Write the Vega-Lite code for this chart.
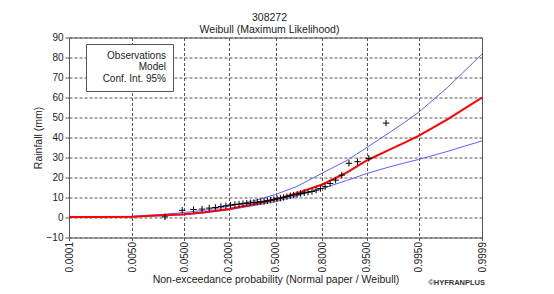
{
  "$schema": "https://vega.github.io/schema/vega-lite/v6.json",
  "width": 413,
  "height": 200,
  "autosize": {"type": "none"},
  "padding": {"left": 69, "top": 37.5, "right": 72, "bottom": 56.5},
  "background": "white",
  "config": {
    "font": "Liberation Sans",
    "view": {"stroke": "#555555", "strokeWidth": 1},
    "axis": {
      "labelFont": "Liberation Sans",
      "labelFontSize": 10,
      "labelColor": "#222222",
      "titleFont": "Liberation Sans",
      "titleFontSize": 10.5,
      "titleFontWeight": "normal",
      "titleColor": "#222222",
      "domain": false,
      "tickColor": "#555555",
      "gridColor": "#555555",
      "gridDash": [3, 2],
      "gridOpacity": 1,
      "gridWidth": 1,
      "tickSize": 4
    }
  },
  "title": {
    "text": ["308272", "Weibull (Maximum Likelihood)"],
    "fontSize": 10.5,
    "fontWeight": "normal",
    "color": "#222222",
    "lineHeight": 12.5,
    "offset": -3,
    "anchor": "middle",
    "frame": "group",
    "dx": -6
  },
  "datasets": {
    "observations": [
      {"z": -1.991, "rain": 0.3},
      {"z": -1.680, "rain": 3.6},
      {"z": -1.477, "rain": 4.0},
      {"z": -1.323, "rain": 4.2},
      {"z": -1.194, "rain": 4.7},
      {"z": -1.083, "rain": 5.0},
      {"z": -0.983, "rain": 5.5},
      {"z": -0.893, "rain": 5.9},
      {"z": -0.809, "rain": 6.2},
      {"z": -0.731, "rain": 6.5},
      {"z": -0.657, "rain": 6.7},
      {"z": -0.586, "rain": 6.9},
      {"z": -0.518, "rain": 7.1},
      {"z": -0.452, "rain": 7.3},
      {"z": -0.389, "rain": 7.5},
      {"z": -0.327, "rain": 7.7},
      {"z": -0.266, "rain": 7.9},
      {"z": -0.206, "rain": 8.1},
      {"z": -0.146, "rain": 8.4},
      {"z": -0.088, "rain": 8.7},
      {"z": -0.029, "rain": 9.0},
      {"z": 0.029, "rain": 9.4},
      {"z": 0.088, "rain": 9.7},
      {"z": 0.146, "rain": 10.0},
      {"z": 0.206, "rain": 10.4},
      {"z": 0.266, "rain": 10.9},
      {"z": 0.327, "rain": 11.2},
      {"z": 0.389, "rain": 11.6},
      {"z": 0.452, "rain": 12.0},
      {"z": 0.518, "rain": 12.4},
      {"z": 0.586, "rain": 12.7},
      {"z": 0.657, "rain": 13.0},
      {"z": 0.731, "rain": 13.7},
      {"z": 0.809, "rain": 14.5},
      {"z": 0.893, "rain": 15.4},
      {"z": 0.983, "rain": 17.0},
      {"z": 1.083, "rain": 18.7},
      {"z": 1.194, "rain": 21.2},
      {"z": 1.323, "rain": 27.1},
      {"z": 1.477, "rain": 27.9},
      {"z": 1.680, "rain": 29.6},
      {"z": 1.991, "rain": 47.2}
    ],
    "curves": [
      {"z": -3.719, "rain": 0.2, "series": "Model", "bound": "model"},
      {"z": -3.090, "rain": 0.3, "series": "Model", "bound": "model"},
      {"z": -2.576, "rain": 0.4, "series": "Model", "bound": "model"},
      {"z": -1.990, "rain": 1.2, "series": "Model", "bound": "model"},
      {"z": -1.645, "rain": 1.6, "series": "Model", "bound": "model"},
      {"z": -1.282, "rain": 2.6, "series": "Model", "bound": "model"},
      {"z": -0.842, "rain": 4.2, "series": "Model", "bound": "model"},
      {"z": -0.385, "rain": 6.6, "series": "Model", "bound": "model"},
      {"z": 0.0, "rain": 9.0, "series": "Model", "bound": "model"},
      {"z": 0.385, "rain": 12.2, "series": "Model", "bound": "model"},
      {"z": 0.842, "rain": 16.5, "series": "Model", "bound": "model"},
      {"z": 1.282, "rain": 22.4, "series": "Model", "bound": "model"},
      {"z": 1.645, "rain": 28.5, "series": "Model", "bound": "model"},
      {"z": 2.054, "rain": 33.9, "series": "Model", "bound": "model"},
      {"z": 2.326, "rain": 37.4, "series": "Model", "bound": "model"},
      {"z": 2.576, "rain": 40.8, "series": "Model", "bound": "model"},
      {"z": 3.090, "rain": 48.9, "series": "Model", "bound": "model"},
      {"z": 3.719, "rain": 60.0, "series": "Model", "bound": "model"},
      {"z": -3.719, "rain": 0.4, "series": "Conf. Int. 95%", "bound": "upper"},
      {"z": -3.090, "rain": 0.5, "series": "Conf. Int. 95%", "bound": "upper"},
      {"z": -2.576, "rain": 0.6, "series": "Conf. Int. 95%", "bound": "upper"},
      {"z": -1.990, "rain": 1.6, "series": "Conf. Int. 95%", "bound": "upper"},
      {"z": -1.645, "rain": 2.5, "series": "Conf. Int. 95%", "bound": "upper"},
      {"z": -1.282, "rain": 3.6, "series": "Conf. Int. 95%", "bound": "upper"},
      {"z": -0.842, "rain": 5.6, "series": "Conf. Int. 95%", "bound": "upper"},
      {"z": -0.385, "rain": 8.4, "series": "Conf. Int. 95%", "bound": "upper"},
      {"z": 0.0, "rain": 11.5, "series": "Conf. Int. 95%", "bound": "upper"},
      {"z": 0.385, "rain": 15.5, "series": "Conf. Int. 95%", "bound": "upper"},
      {"z": 0.842, "rain": 22.2, "series": "Conf. Int. 95%", "bound": "upper"},
      {"z": 1.282, "rain": 28.5, "series": "Conf. Int. 95%", "bound": "upper"},
      {"z": 1.645, "rain": 35.0, "series": "Conf. Int. 95%", "bound": "upper"},
      {"z": 2.054, "rain": 42.5, "series": "Conf. Int. 95%", "bound": "upper"},
      {"z": 2.326, "rain": 47.6, "series": "Conf. Int. 95%", "bound": "upper"},
      {"z": 2.576, "rain": 52.6, "series": "Conf. Int. 95%", "bound": "upper"},
      {"z": 3.090, "rain": 64.8, "series": "Conf. Int. 95%", "bound": "upper"},
      {"z": 3.719, "rain": 81.7, "series": "Conf. Int. 95%", "bound": "upper"},
      {"z": -3.719, "rain": 0.1, "series": "Conf. Int. 95%", "bound": "lower"},
      {"z": -3.090, "rain": 0.2, "series": "Conf. Int. 95%", "bound": "lower"},
      {"z": -2.576, "rain": 0.3, "series": "Conf. Int. 95%", "bound": "lower"},
      {"z": -1.990, "rain": 0.9, "series": "Conf. Int. 95%", "bound": "lower"},
      {"z": -1.645, "rain": 1.3, "series": "Conf. Int. 95%", "bound": "lower"},
      {"z": -1.282, "rain": 2.3, "series": "Conf. Int. 95%", "bound": "lower"},
      {"z": -0.842, "rain": 3.8, "series": "Conf. Int. 95%", "bound": "lower"},
      {"z": -0.385, "rain": 6.0, "series": "Conf. Int. 95%", "bound": "lower"},
      {"z": 0.0, "rain": 8.0, "series": "Conf. Int. 95%", "bound": "lower"},
      {"z": 0.385, "rain": 10.8, "series": "Conf. Int. 95%", "bound": "lower"},
      {"z": 0.842, "rain": 14.5, "series": "Conf. Int. 95%", "bound": "lower"},
      {"z": 1.282, "rain": 18.5, "series": "Conf. Int. 95%", "bound": "lower"},
      {"z": 1.645, "rain": 22.0, "series": "Conf. Int. 95%", "bound": "lower"},
      {"z": 2.054, "rain": 25.3, "series": "Conf. Int. 95%", "bound": "lower"},
      {"z": 2.326, "rain": 27.3, "series": "Conf. Int. 95%", "bound": "lower"},
      {"z": 2.576, "rain": 29.0, "series": "Conf. Int. 95%", "bound": "lower"},
      {"z": 3.090, "rain": 33.0, "series": "Conf. Int. 95%", "bound": "lower"},
      {"z": 3.719, "rain": 38.3, "series": "Conf. Int. 95%", "bound": "lower"}
    ],
    "credit": [{"note": "©HYFRANPLUS", "z": 3.719, "rain": -10}]
  },
  "encoding": {
    "x": {
      "field": "z",
      "type": "quantitative",
      "scale": {"domain": [-3.719, 3.719], "nice": false, "zero": false},
      "axis": {
        "title": "Non-exceedance probability (Normal paper / Weibull)",
        "values": [-3.719, -2.576, -1.645, -0.8416, 0, 0.8416, 1.645, 2.576, 3.719],
        "labelExpr": "datum.value < -3 ? '0.0001' : datum.value < -2 ? '0.0050' : datum.value < -1 ? '0.0500' : datum.value < -0.5 ? '0.2000' : datum.value < 0.5 ? '0.5000' : datum.value < 1 ? '0.8000' : datum.value < 2 ? '0.9500' : datum.value < 3 ? '0.9950' : '0.9999'",
        "labelAngle": 270,
        "labelPadding": 1,
        "tickSize": 3,
        "titlePadding": 2,
        "labelFlush": false,
        "labelOverlap": false
      }
    },
    "y": {
      "field": "rain",
      "type": "quantitative",
      "scale": {"domain": [-10, 90], "nice": false, "zero": false},
      "axis": {
        "title": "Rainfall (mm)",
        "values": [-10, 0, 10, 20, 30, 40, 50, 60, 70, 80, 90],
        "labelPadding": 2,
        "titlePadding": 3
      }
    }
  },
  "layer": [
    {
      "data": {"name": "curves"},
      "transform": [{"filter": "datum.series === 'Conf. Int. 95%'"}],
      "mark": {"type": "line", "strokeWidth": 1, "clip": true},
      "encoding": {
        "color": {
          "field": "series",
          "type": "nominal",
          "scale": {"domain": ["Observations", "Model", "Conf. Int. 95%"], "range": ["#000000", "#ff0000", "#5f5fff"]},
          "legend": {
            "title": null,
            "orient": "none",
            "legendX": 17,
            "legendY": 6.5,
            "direction": "vertical",
            "symbolSize": 25,
            "symbolOpacity": 0,
            "symbolStrokeWidth": 0,
            "labelAlign": "right",
            "labelFont": "Liberation Sans",
            "labelFontSize": 10,
            "labelColor": "#222222",
            "labelOffset": 63,
            "labelLimit": 200,
            "strokeColor": "#555555",
            "fillColor": "white",
            "padding": 7,
            "rowPadding": 1.3
          }
        },
        "detail": {"field": "bound"}
      }
    },
    {
      "data": {"name": "curves"},
      "transform": [{"filter": "datum.series === 'Model'"}],
      "mark": {"type": "line", "strokeWidth": 2, "clip": true},
      "encoding": {
        "color": {"field": "series", "type": "nominal"}
      }
    },
    {
      "data": {"name": "observations"},
      "mark": {"type": "point", "shape": "M-1,0L1,0M0,-1L0,1", "filled": false, "size": 42, "strokeWidth": 1, "opacity": 1},
      "encoding": {
        "color": {"datum": "Observations", "type": "nominal"}
      }
    },
    {
      "data": {"name": "credit"},
      "mark": {"type": "text", "align": "right", "baseline": "alphabetic", "dx": 3, "dy": 47, "fontSize": 7.5, "fontWeight": "bold", "color": "#333333"},
      "encoding": {
        "text": {"field": "note"}
      }
    }
  ]
}
